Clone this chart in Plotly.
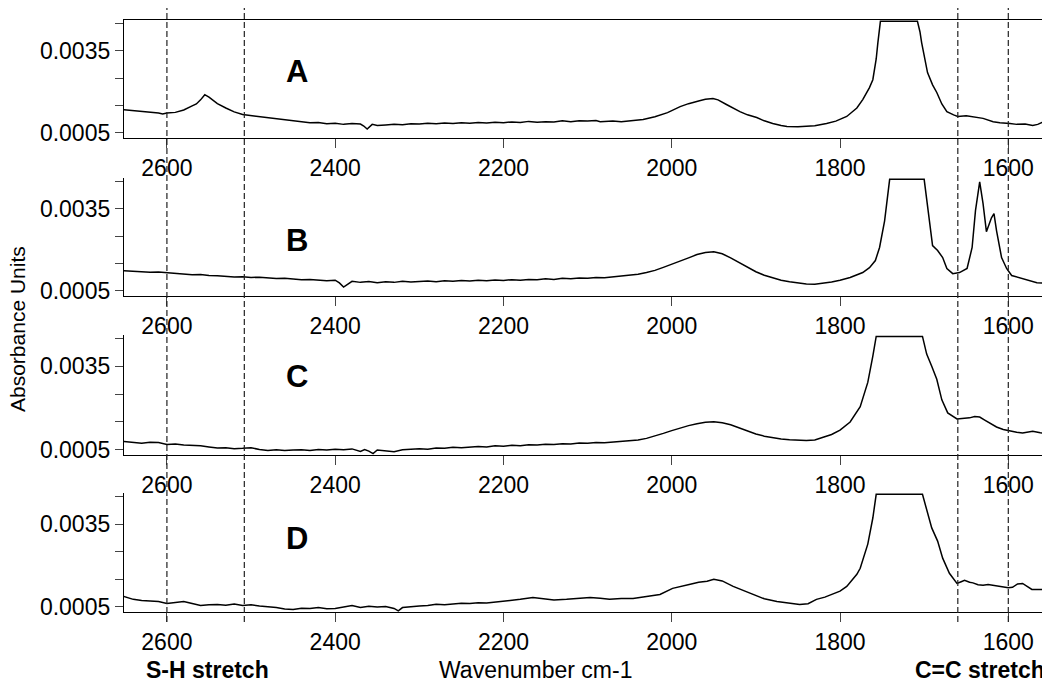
import numpy as np
import plotly.graph_objects as go

# ---------------- data (absorbance values given in units of 1e-4 AU) ----------------
wn_A = [2652, 2640, 2630, 2620, 2610, 2605, 2600, 2590, 2580, 2570, 2565, 2560, 2555, 2550, 2545,
        2540, 2530, 2520, 2510, 2500, 2490, 2480, 2470, 2460, 2450, 2440, 2430, 2420, 2410, 2400,
        2390, 2380, 2370, 2366, 2362, 2356, 2350, 2340, 2330, 2320, 2310, 2300, 2290, 2280, 2270,
        2260, 2250, 2240, 2230, 2220, 2210, 2200, 2190, 2180, 2170, 2160, 2150, 2140, 2130, 2120,
        2110, 2100, 2090, 2085, 2070, 2060, 2050, 2040, 2034, 2020, 2005, 1990, 1980, 1967, 1960,
        1951, 1945, 1935, 1925, 1919, 1910, 1899, 1890, 1880, 1870, 1863, 1850, 1840, 1830, 1816,
        1805, 1792, 1780, 1773, 1765, 1761, 1757, 1755, 1752, 1708, 1705, 1703, 1700, 1696, 1690,
        1685, 1679, 1673, 1665, 1660, 1650, 1642, 1630, 1618, 1610, 1598, 1590, 1580, 1571, 1565,
        1560, 1554]
abs_A = [13.4, 13.1, 12.9, 12.6, 12.2, 11.8, 12.2, 12.4, 13.3, 14.8, 15.5, 17.0, 18.9, 18.0, 16.8,
         15.6, 14.0, 12.6, 11.6, 11.2, 10.9, 10.4, 10.1, 9.8, 9.3, 9.0, 8.6, 8.7, 8.2, 8.4,
         8.0, 8.3, 8.1, 7.4, 6.3, 8.0, 7.6, 7.8, 8.0, 7.9, 8.2, 8.1, 8.4, 8.2, 8.5,
         8.3, 8.6, 8.4, 8.7, 8.5, 8.8, 8.6, 8.9, 8.7, 9.1, 8.8, 9.0, 8.9, 9.3, 9.0,
         9.3, 9.2, 9.4, 9.0, 9.2, 9.0, 9.4, 9.6, 9.8, 10.8, 12.3, 14.5, 15.6, 16.7, 17.2,
         17.5, 17.0, 15.3, 13.5, 12.7, 11.5, 10.5, 9.3, 8.3, 7.6, 7.2, 7.1, 7.2, 7.5, 8.3,
         9.2, 10.9, 14.0, 17.1, 21.5, 24.4, 32.0, 38.0, 45.8, 45.8, 42.0, 38.0, 33.0, 27.0, 22.5,
         19.7, 15.5, 12.7, 11.5, 10.9, 11.2, 10.9, 10.2, 9.0, 8.6, 8.3, 8.0, 8.1, 7.6, 8.0,
         8.7, 8.9]

wn_B = [2652, 2640, 2630, 2620, 2610, 2600, 2590, 2580, 2570, 2560, 2550, 2540, 2530, 2520, 2510,
        2500, 2490, 2480, 2470, 2460, 2450, 2440, 2430, 2420, 2410, 2400, 2395, 2390, 2385, 2380,
        2370, 2360, 2350, 2340, 2330, 2320, 2310, 2300, 2290, 2280, 2270, 2260, 2250, 2240, 2230,
        2220, 2210, 2200, 2190, 2180, 2170, 2160, 2150, 2140, 2130, 2120, 2110, 2100, 2090, 2080,
        2070, 2060, 2050, 2040, 2030, 2020, 2010, 2000, 1990, 1980, 1970, 1960, 1950, 1940, 1930,
        1920, 1910, 1900, 1890, 1880, 1870, 1860, 1850, 1840, 1830, 1820, 1810, 1800, 1788, 1773,
        1765, 1758, 1753, 1747, 1743, 1741, 1700, 1697, 1693, 1690, 1684, 1678, 1673, 1666, 1658,
        1649, 1643, 1639, 1634, 1630, 1626, 1620, 1617, 1614, 1608, 1602, 1596, 1583, 1575, 1566,
        1553]
abs_B = [12.3, 12.0, 11.9, 11.7, 11.8, 11.5, 11.2, 11.0, 10.8, 10.9, 10.5, 10.4, 10.2, 10.0, 10.1,
         9.8, 9.9, 9.6, 9.4, 9.5, 9.2, 9.0, 9.1, 8.8, 8.6, 8.8, 7.8, 6.3, 7.5, 8.4,
         8.0, 8.3, 7.9, 8.2, 8.0, 8.4, 8.1, 8.3, 8.5, 8.2, 8.6, 8.4, 8.7, 8.5, 8.8,
         8.6, 8.9, 8.7, 9.0, 8.8, 9.1, 9.0, 9.3, 9.1, 9.5, 9.3, 9.6, 9.5, 9.8, 9.7,
         10.0, 10.2, 10.5, 11.0, 11.6, 12.4, 13.5, 14.6, 15.8, 17.0, 18.2, 19.0, 19.2, 18.5, 17.0,
         15.2, 13.4, 11.9, 10.6, 9.6, 8.8, 8.2, 7.8, 7.4, 7.3, 7.6, 8.1, 8.8, 9.8, 11.6,
         13.4, 16.0, 20.8, 30.6, 41.6, 45.8, 45.8, 39.1, 29.5, 21.5, 19.7, 17.1, 13.1, 11.2, 11.6,
         13.1, 20.8, 34.3, 44.9, 36.9, 26.6, 31.7, 33.2, 27.0, 17.1, 13.1, 10.5, 9.4, 8.6, 7.9,
         7.6]

wn_C = [2652, 2640, 2630, 2620, 2610, 2600, 2590, 2580, 2570, 2560, 2550, 2540, 2530, 2520, 2510,
        2500, 2490, 2480, 2470, 2460, 2450, 2440, 2430, 2420, 2410, 2400, 2390, 2380, 2370, 2365,
        2360, 2355, 2350, 2340, 2330, 2320, 2310, 2300, 2290, 2280, 2270, 2260, 2250, 2240, 2230,
        2220, 2210, 2200, 2190, 2180, 2170, 2160, 2150, 2140, 2130, 2120, 2110, 2100, 2090, 2080,
        2070, 2060, 2050, 2040, 2030, 2020, 2010, 2000, 1990, 1980, 1970, 1960, 1950, 1940, 1930,
        1920, 1910, 1900, 1890, 1880, 1870, 1860, 1850, 1840, 1830, 1820, 1810, 1800, 1788, 1776,
        1767, 1761, 1757, 1702, 1697, 1691, 1685, 1679, 1672, 1661, 1653, 1646, 1640, 1634, 1628,
        1620, 1614, 1606, 1598, 1590, 1583, 1577, 1571, 1562, 1554]
abs_C = [7.9, 7.4, 7.2, 7.6, 7.5, 6.8, 7.0, 6.6, 6.5, 6.3, 5.9, 5.5, 5.6, 5.3, 5.4,
         5.6, 5.0, 4.6, 4.9, 4.6, 4.8, 4.9, 4.6, 5.0, 4.8, 5.1, 4.9, 5.2, 4.3, 5.0,
         4.4, 3.5, 4.8, 4.6, 4.2, 4.9, 5.1, 5.3, 5.1, 5.5, 5.4, 5.8, 5.6, 5.9, 6.1,
         5.9, 6.3, 6.2, 6.5, 6.3, 6.7, 6.6, 6.9, 6.8, 7.1, 7.0, 7.3, 7.2, 7.5, 7.4,
         7.7, 7.9, 8.1, 8.4, 9.0, 9.8, 10.8, 11.8, 12.8, 13.6, 14.3, 14.8, 15.0, 14.6, 13.9,
         12.8, 11.6, 10.6, 9.8, 9.2, 8.8, 8.5, 8.3, 8.2, 8.4, 9.4, 10.4, 12.0, 14.9, 20.4,
         29.2, 38.7, 45.8, 45.8, 39.4, 35.0, 30.3, 22.9, 18.2, 16.0, 16.2, 16.4, 16.9, 16.7, 15.6,
         14.2, 13.1, 12.2, 11.6, 11.2, 10.9, 11.3, 11.6, 11.0, 10.9]

wn_D = [2652, 2645, 2640, 2630, 2620, 2610, 2600, 2590, 2580, 2570, 2560, 2550, 2540, 2530, 2520,
        2510, 2500, 2490, 2480, 2470, 2460, 2450, 2440, 2430, 2420, 2410, 2400, 2390, 2380, 2370,
        2360, 2350, 2340, 2330, 2325, 2320, 2310, 2300, 2290, 2280, 2270, 2260, 2250, 2240, 2230,
        2220, 2210, 2204, 2190, 2180, 2165, 2150, 2140, 2125, 2110, 2097, 2085, 2074, 2060, 2046,
        2030, 2014, 1999, 1988, 1978, 1968, 1958, 1950, 1940, 1927, 1915, 1904, 1890, 1875, 1860,
        1848, 1838, 1828, 1818, 1809, 1800, 1792, 1780, 1776, 1767, 1761, 1757, 1702, 1697, 1691,
        1684, 1678, 1670, 1661, 1656, 1652, 1646, 1642, 1636, 1630, 1624, 1618, 1612, 1607, 1600,
        1595, 1589, 1583, 1578, 1572, 1566, 1554]
abs_D = [8.7, 8.0, 7.6, 7.2, 6.9, 6.8, 6.1, 6.4, 6.8, 6.1, 5.4, 5.6, 5.7, 5.5, 5.9,
         5.4, 5.6, 5.2, 5.0, 4.6, 4.1, 3.9, 4.4, 4.3, 4.6, 4.2, 4.3, 4.9, 5.4, 4.6,
         5.1, 4.8, 5.0, 4.3, 3.4, 4.6, 5.0, 5.2, 5.4, 5.8, 5.6, 6.0, 6.2, 6.1, 6.4,
         6.3, 6.6, 6.8, 7.2, 7.6, 8.3, 7.9, 7.4, 7.6, 8.0, 8.3, 8.0, 7.6, 7.9, 7.9,
         8.6, 9.4, 11.6, 12.5, 13.1, 13.8, 14.2, 14.9, 14.3, 12.3, 10.8, 9.4, 7.8, 6.8, 6.1,
         5.7, 6.0, 7.6, 8.4, 9.4, 10.6, 12.3, 16.7, 18.9, 27.7, 37.2, 45.8, 45.8, 39.8, 33.6,
         28.8, 22.6, 17.1, 13.4, 14.0, 14.5, 13.8, 13.6, 12.9, 12.7, 13.0, 12.7, 12.2, 12.0, 11.8,
         12.0, 13.2, 13.4, 12.5, 11.2, 11.2, 11.2]

panel_names = ["A", "B", "C", "D"]
x_ticks = [2600, 2400, 2200, 2000, 1800, 1600]
y_ticks = [0.0005, 0.0015, 0.0025, 0.0035, 0.0045]
y_tick_text = ["0.0005", "", "", "0.0035", ""]
marker_lines = [2600, 2508, 1660, 1600]
label_pos = [(2445, 27.3), (2445, 23.3), (2445, 31.4), (2445, 29.9)]

series = [(wn_A, abs_A), (wn_B, abs_B), (wn_C, abs_C), (wn_D, abs_D)]

# ---------------- figure ----------------
# page body has an 8px margin; figure is sized so it ends exactly at the window edge
OFF = 8
W, H = 1050 - OFF, 684 - OFF
ml, mr, mt, mb = 124 - OFF, 3, 20 - OFF, 72
plot_w = W - ml - mr          # 923
plot_h = H - mt - mb          # 592
BOT = 612                     # screen y of the plot-area bottom
domains_px = [(20, 138), (178, 296), (335, 455), (493, 612)]   # screen top, bottom


def py(sy):
    return (BOT - sy) / plot_h


def px(sx):
    return (sx - 124) / plot_w


FONT = "Liberation Sans, Arial, Helvetica, sans-serif"
fig = go.Figure()
layout = dict(width=W, height=H, margin=dict(l=ml, r=mr, t=mt, b=mb, autoexpand=False),
              paper_bgcolor="white", plot_bgcolor="white", showlegend=False,
              font=dict(family=FONT, color="black"))

x_range = [2651, 1554]
y_range = [0.0003, 0.00463]

for i, (xs, ys) in enumerate(series):
    k = "" if i == 0 else str(i + 1)
    fig.add_trace(go.Scatter(x=xs, y=np.array(ys) * 1e-4, mode="lines",
                             line=dict(color="black", width=1.5),
                             xaxis="x" + k, yaxis="y" + k, hoverinfo="skip"))
    top, bot = domains_px[i]
    layout["xaxis" + k] = dict(range=x_range, anchor="y" + k, domain=[0, 1],
                               tickvals=x_ticks, ticks="outside", ticklen=9, tickwidth=1.3,
                               showline=True, linecolor="black", linewidth=1.3,
                               mirror=(i == 0), showgrid=False, zeroline=False,
                               tickfont=dict(size=23, family=FONT, color="black"))
    layout["yaxis" + k] = dict(range=y_range, anchor="x" + k, domain=[py(bot), py(top)],
                               tickvals=y_ticks, ticktext=y_tick_text, ticks="outside",
                               ticklen=8, tickwidth=1.3, showline=True, linecolor="black",
                               linewidth=1.3, mirror=True, showgrid=False, zeroline=False,
                               tickfont=dict(size=23, family=FONT, color="black"))

annotations = []
for i, name in enumerate(panel_names):
    k = "" if i == 0 else str(i + 1)
    lx, ly = label_pos[i]
    annotations.append(dict(x=lx, y=ly * 1e-4, xref="x" + k, yref="y" + k, text="<b>%s</b>" % name,
                            xanchor="center", yanchor="middle",
                            showarrow=False, font=dict(size=31, family=FONT, color="black")))

annotations += [
    dict(x=px(17), y=py(329), xref="paper", yref="paper", xanchor="center", yanchor="middle",
         text="Absorbance Units", textangle=-90, showarrow=False,
         font=dict(size=21, family=FONT, color="black")),
    dict(x=px(207), y=py(670), xref="paper", yref="paper", xanchor="center", yanchor="middle",
         text="<b>S-H stretch</b>", showarrow=False, font=dict(size=23, family=FONT, color="black")),
    dict(x=px(535), y=py(670), xref="paper", yref="paper", xanchor="center", yanchor="middle",
         text="Wavenumber cm-1", showarrow=False, font=dict(size=23, family=FONT, color="black")),
    dict(x=px(1047), y=py(670), xref="paper", yref="paper", xanchor="right", yanchor="middle",
         text="<b>C=C stretch</b>", showarrow=False, font=dict(size=23, family=FONT, color="black")),
]
layout["annotations"] = annotations

shapes = []
for xv in marker_lines:
    shapes.append(dict(type="line", xref="x", yref="paper", x0=xv, x1=xv,
                       y0=py(622), y1=py(OFF),
                       line=dict(color="#222222", width=1.2, dash="6px,3px")))
layout["shapes"] = shapes

fig.update_layout(**layout)
fig.write_html("out.html")
